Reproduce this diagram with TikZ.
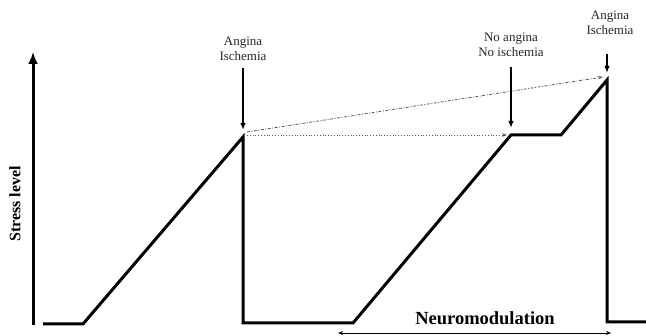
\documentclass[tikz,border=0pt]{standalone}
\usepackage{fontspec}
\setmainfont{Liberation Serif}
\usetikzlibrary{arrows.meta}
\begin{document}
\begin{tikzpicture}[x=1pt,y=-1pt,
  curve/.style={line width=3pt,line join=miter,black},
  pointer/.style={line width=1.4pt,-{Latex[length=7pt,width=5.5pt]}},
  guide/.style={line width=0.8pt,gray!70!black,-{Stealth[length=5pt,width=3.5pt]}},
  lbl/.style={align=center,font=\fontsize{13}{15}\selectfont,inner sep=0pt,text=black!85}]
\useasboundingbox (0,0) rectangle (646,336);
% axis
\coordinate (ax0) at (33,325);
\coordinate (ax1) at (33,52);
\draw[line width=3pt,-{Latex[length=12pt,width=10pt]}] (ax0) -- (ax1);
\node[rotate=90,font=\bfseries\fontsize{16}{18}\selectfont,inner sep=0pt] (ylab) at (15,204) {Stress level};
% curve points
\coordinate (p0) at (43,324);
\coordinate (p1) at (83,324);
\coordinate (pk1) at (243,137);
\coordinate (p2) at (243,323);
\coordinate (p3) at (353,323);
\coordinate (pl1) at (511,135);
\coordinate (pl2) at (561,135);
\coordinate (pk2) at (607,80);
\coordinate (p4) at (607,322);
\coordinate (p5) at (646,322);
\draw[curve] (p0) -- (p1) -- (pk1) -- (p2) -- (p3) -- (pl1) -- (pl2) -- (pk2) -- (p4) -- (p5);
% guide lines
\coordinate (g0) at (247,135);
\coordinate (g1) at (507,135);
\coordinate (g2) at (247,132);
\coordinate (g3) at (603,77);
\draw[guide,dotted] (g0) -- (g1);
\draw[guide,dash pattern=on 3pt off 1.5pt on 1pt off 1.5pt] (g2) -- (g3);
% labels
\node[lbl] (la1) at (243,49) {Angina\\Ischemia};
\coordinate (a1) at (243,130);
\draw[pointer] (243,68) -- (a1);
\node[lbl] (la2) at (511,45) {No angina\\No ischemia};
\coordinate (a2) at (511,128);
\draw[pointer] (511,67) -- (a2);
\node[lbl] (la3) at (610,23) {Angina\\Ischemia};
\coordinate (a3) at (607,73);
\draw[pointer] (607,54) -- (a3);
% neuromodulation
\node[font=\bfseries\fontsize{18.5}{20}\selectfont,inner sep=0pt] (nm) at (485,318) {Neuromodulation};
\coordinate (n0) at (338,333);
\coordinate (n1) at (611,333);
\draw[line width=0.8pt,{Stealth[length=5pt,width=4pt]}-{Stealth[length=5pt,width=4pt]}] (n0) -- (n1);
\end{tikzpicture}
\end{document}
